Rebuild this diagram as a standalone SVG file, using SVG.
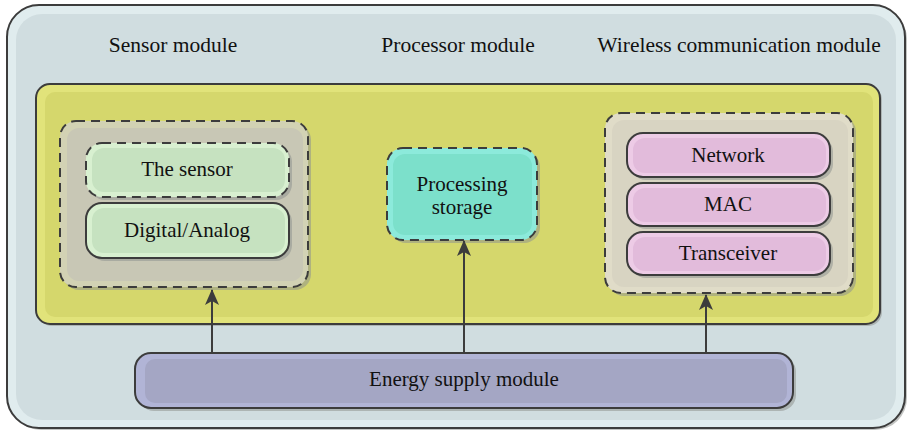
<svg xmlns="http://www.w3.org/2000/svg" width="908" height="433" viewBox="0 0 908 433">
<defs>
<style>
.t{font-family:'Liberation Serif','Times New Roman',serif;font-size:21px;fill:#111;text-anchor:middle;}
.h{font-size:21.5px;}
.solid{stroke:#3c3c3c;stroke-width:2;}
.dash{stroke:#3c3c3c;stroke-width:2;stroke-dasharray:9 6;}
.shadow{fill:#8f948f;opacity:0.55;}
.conn{stroke:#3c3c3c;stroke-width:2;fill:none;}
</style>
<marker id="arrow" viewBox="0 0 16 16" refX="15" refY="8" markerWidth="16" markerHeight="16" markerUnits="userSpaceOnUse" orient="auto">
<path d="M0,1 L16,8 L0,15 L4,8 z" fill="#3c3c3c"/>
</marker>
</defs>

<g id="outer">
<rect x="9" y="7" width="898" height="423" rx="32" class="shadow"/>
<rect x="7" y="5" width="898" height="423" rx="32" fill="#e0ecee" class="solid"/>
<rect x="16" y="14" width="880" height="406" rx="26" fill="#d0dde0"/>
</g>

<g id="labels">
<text class="t h" x="173" y="52">Sensor module</text>
<text class="t h" x="458" y="52">Processor module</text>
<text class="t h" x="739" y="52">Wireless communication module</text>
</g>

<g id="node-board">
<rect x="38" y="86" width="844" height="240" rx="14" class="shadow"/>
<rect x="36" y="84" width="844" height="240" rx="14" fill="#e1e37a" class="solid"/>
<rect x="45" y="92" width="828" height="225" rx="10" fill="#d5d76c"/>
</g>

<g id="sensor-module">
<rect x="63" y="124" width="248" height="166" rx="16" class="shadow"/>
<rect x="60" y="121" width="248" height="166" rx="16" fill="#d2d2b4" class="dash"/>
<rect x="67" y="128" width="236" height="153" rx="12" fill="#c8c7b5"/>
</g>

<g id="the-sensor">
<rect x="89" y="146" width="203" height="54" rx="16" class="shadow"/>
<rect x="86" y="143" width="203" height="54" rx="16" fill="#d8f0d0" class="dash"/>
<rect x="92" y="148" width="193" height="44" rx="12" fill="#c6e2c0"/>
<text class="t" x="187" y="176">The sensor</text>
</g>

<g id="digital-analog">
<rect x="89" y="206" width="203" height="55" rx="16" class="shadow"/>
<rect x="86" y="203" width="203" height="55" rx="16" fill="#d8f0d0" class="solid"/>
<rect x="92" y="208" width="193" height="45" rx="12" fill="#c6e2c0"/>
<text class="t" x="187" y="237">Digital/Analog</text>
</g>

<g id="processing-storage">
<rect x="390" y="151" width="150" height="92" rx="16" class="shadow"/>
<rect x="387" y="148" width="150" height="92" rx="16" fill="#8ceadb" class="dash"/>
<rect x="393" y="154" width="139" height="81" rx="12" fill="#7ce0cb"/>
<text class="t" x="462" y="191">Processing</text>
<text class="t" x="462" y="214">storage</text>
</g>

<g id="wireless-module">
<rect x="608" y="116" width="248" height="180" rx="16" class="shadow"/>
<rect x="605" y="113" width="248" height="180" rx="16" fill="#e0dcc8" class="dash"/>
<rect x="612" y="120" width="236" height="167" rx="12" fill="#d8d4c2"/>
</g>

<g id="network">
<rect x="630" y="136" width="203" height="44" rx="16" class="shadow"/>
<rect x="627" y="133" width="203" height="44" rx="16" fill="#edcbe6" class="solid"/>
<rect x="633" y="138" width="193" height="35" rx="12" fill="#e2bbdb"/>
<text class="t" x="728" y="162">Network</text>
</g>

<g id="mac">
<rect x="630" y="186" width="203" height="43" rx="16" class="shadow"/>
<rect x="627" y="183" width="203" height="43" rx="16" fill="#edcbe6" class="solid"/>
<rect x="633" y="188" width="193" height="34" rx="12" fill="#e2bbdb"/>
<text class="t" x="728" y="211">MAC</text>
</g>

<g id="transceiver">
<rect x="630" y="235" width="203" height="43" rx="16" class="shadow"/>
<rect x="627" y="232" width="203" height="43" rx="16" fill="#edcbe6" class="solid"/>
<rect x="633" y="237" width="193" height="34" rx="12" fill="#e2bbdb"/>
<text class="t" x="728" y="260">Transceiver</text>
</g>

<g id="energy-supply">
<rect x="138" y="356" width="658" height="55" rx="16" class="shadow"/>
<rect x="135" y="353" width="658" height="55" rx="16" fill="#b1b4d6" class="solid"/>
<rect x="145" y="359" width="642" height="44" rx="10" fill="#a4a6c4"/>
<text class="t" x="464" y="386">Energy supply module</text>
</g>

<g id="connectors">
<line x1="212" y1="353" x2="212" y2="290" class="conn" marker-end="url(#arrow)"/>
<line x1="464" y1="353" x2="464" y2="241" class="conn" marker-end="url(#arrow)"/>
<line x1="706" y1="353" x2="706" y2="295" class="conn" marker-end="url(#arrow)"/>
</g>
</svg>
